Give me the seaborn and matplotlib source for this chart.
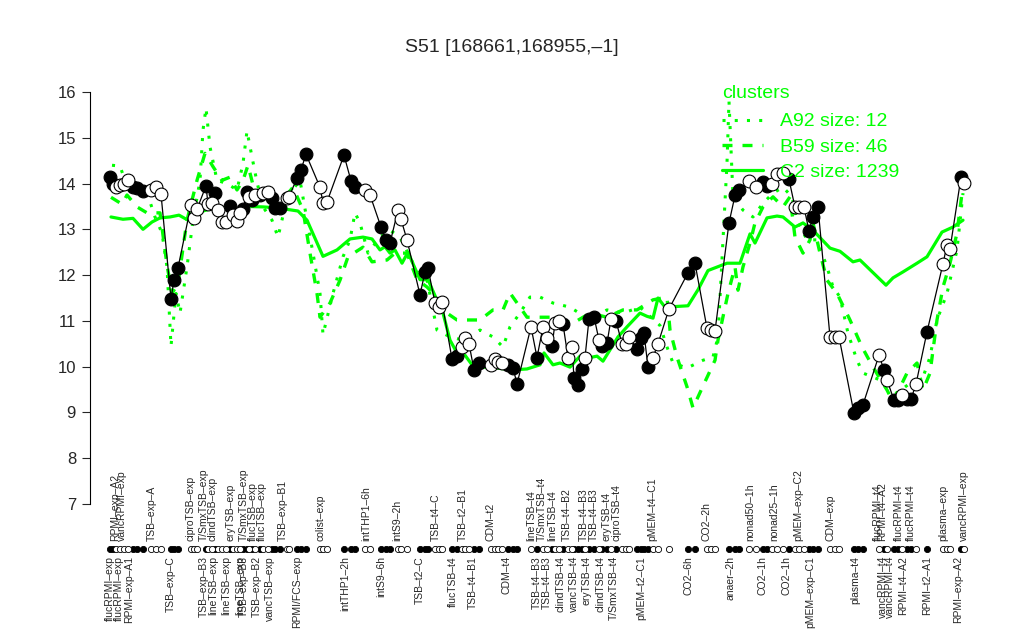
import matplotlib
matplotlib.use("Agg")
import matplotlib.pyplot as plt
import matplotlib.transforms as mtransforms
from matplotlib.lines import Line2D
import seaborn as sns

sns.set_style("white")
plt.rcParams['font.family'] = ['Liberation Sans', 'DejaVu Sans']

# sample position along the x axis, expression value, filled marker (1) or open (0)
pos = [110, 113, 116, 120, 124, 128, 133, 137, 143, 151, 156, 161, 171, 174, 178,
       191, 194, 197, 206, 208, 212, 215, 218, 222, 226, 230, 233, 237, 240, 243,
       247, 249, 252, 255, 260, 263, 268, 272, 275, 280, 287, 289, 297, 301, 306,
       320, 323, 327, 344, 351, 355, 365, 370, 381, 386, 390, 398, 401, 407, 420,
       425, 428, 435, 439, 442, 452, 457, 462, 465, 469, 474, 479, 491, 495, 498,
       502, 508, 513, 517, 531, 537, 543, 547, 552, 555, 559, 563, 568, 572, 574,
       578, 582, 585, 589, 594, 599, 602, 607, 611, 616, 622, 626, 629, 637, 641,
       644, 648, 653, 658, 669, 688, 695, 707, 711, 715, 729, 735, 739, 749, 756,
       763, 767, 772, 777, 783, 789, 795, 799, 804, 809, 813, 818, 830, 835, 839,
       854, 858, 863, 879, 884, 887, 894, 898, 902, 907, 911, 916, 927, 943, 947,
       950, 961, 964]
expr = [14.15, 14.0, 13.93, 13.97, 14.0, 14.08, 13.93, 13.9, 13.84, 13.85, 13.92, 13.77, 11.48, 11.9, 12.16,
        13.53, 13.25, 13.44, 13.95, 13.55, 13.58, 13.79, 13.42, 13.16, 13.15, 13.51, 13.31, 13.18, 13.35, 13.44,
        13.82, 13.7, 13.65, 13.75, 13.75, 13.8, 13.82, 13.68, 13.47, 13.47, 13.68, 13.71, 14.12, 14.3, 14.64,
        13.92, 13.58, 13.6, 14.62, 14.06, 13.93, 13.87, 13.75, 13.05, 12.77, 12.7, 13.42, 13.22, 12.77, 11.57,
        12.07, 12.15, 11.39, 11.3, 11.41, 10.17, 10.23, 10.43, 10.62, 10.5, 9.93, 10.08, 10.04, 10.17, 10.1,
        10.08, 10.04, 9.98, 9.62, 10.87, 10.2, 10.87, 10.63, 10.45, 10.95, 11.0, 10.93, 10.2, 10.43, 9.75,
        9.6, 9.95, 10.2, 11.04, 11.09, 10.58, 10.45, 10.51, 11.04, 11.0, 10.5, 10.5, 10.65, 10.38, 10.62,
        10.73, 9.99, 10.2, 10.5, 11.26, 12.05, 12.26, 10.84, 10.8, 10.78, 13.14, 13.74, 13.86, 14.06, 13.92,
        14.04, 13.95, 14.0, 14.2, 14.24, 14.09, 13.48, 13.48, 13.48, 12.97, 13.27, 13.49, 10.65, 10.65, 10.65,
        8.98, 9.1, 9.17, 10.25, 9.93, 9.71, 9.27, 9.27, 9.38, 9.3, 9.29, 9.62, 10.76, 12.25, 12.66,
        12.57, 14.14, 14.02]
filled = [1, 1, 0, 0, 0, 0, 1, 1, 1, 0, 0, 0, 1, 1, 1,
          0, 0, 0, 1, 0, 0, 1, 0, 0, 0, 1, 0, 0, 0, 1,
          1, 0, 1, 0, 1, 0, 0, 1, 1, 1, 0, 0, 1, 1, 1,
          0, 0, 0, 1, 1, 1, 0, 0, 1, 1, 1, 0, 0, 0, 1,
          1, 1, 0, 0, 0, 1, 1, 0, 0, 0, 1, 1, 0, 0, 0,
          0, 1, 1, 1, 0, 1, 0, 0, 1, 0, 0, 1, 0, 0, 1,
          1, 1, 0, 1, 1, 0, 1, 1, 0, 1, 0, 0, 0, 1, 1,
          1, 1, 0, 0, 0, 1, 1, 0, 0, 0, 1, 1, 1, 0, 0,
          1, 1, 0, 0, 0, 1, 0, 0, 0, 1, 1, 1, 0, 0, 0,
          1, 1, 1, 0, 1, 0, 1, 1, 0, 1, 1, 0, 1, 0, 0,
          0, 1, 0]

# cluster mean profiles
c2_pos = [111, 123, 133, 143, 152, 160, 170, 179, 188, 200, 217, 237, 247, 263, 277, 298, 307, 323,
          337, 350, 363, 372, 380, 385, 390, 395, 402, 408, 420, 428, 437, 443, 450, 457, 465, 473,
          483, 497, 513, 527, 540, 544, 553, 560, 570, 580, 588, 597, 603, 618, 627, 640, 647, 653,
          658, 665, 688, 698, 708, 727, 740, 750, 755, 767, 777, 783, 795, 803, 813, 830, 840, 853,
          860, 886, 893, 903, 917, 927, 942, 953, 963]
c2_val = [13.27, 13.22, 13.24, 13.0, 13.16, 13.25, 13.27, 13.31, 13.2, 13.38, 13.49, 13.42, 13.5, 13.49,
          13.47, 13.4, 13.2, 12.41, 12.55, 12.79, 12.83, 12.79, 12.55, 12.62, 12.48, 12.55, 12.26, 12.5,
          11.9, 11.9, 11.45, 11.17, 10.58, 10.3, 10.25, 10.01, 9.99, 9.97, 9.93, 9.95, 10.04, 10.3, 10.04,
          10.08, 9.99, 10.23, 10.19, 10.23, 10.12, 10.65, 10.87, 11.17, 11.1, 11.06, 11.5, 11.3, 11.33,
          11.68, 12.1, 12.26, 12.26, 12.9, 12.7, 13.25, 13.29, 13.27, 13.05, 13.14, 12.98, 12.59, 12.52,
          12.29, 12.33, 11.78, 11.94, 12.07, 12.26, 12.4, 12.94, 13.05, 13.2]

b59_pos = [111, 122, 127, 137, 147, 160, 167, 172, 178, 187, 197, 205, 213, 222, 230, 237, 243, 248,
           253, 262, 277, 293, 303, 310, 317, 320, 330, 340, 348, 363, 372, 387, 395, 407, 417, 427,
           437, 447, 457, 467, 480, 493, 503, 510, 520, 527, 540, 553, 573, 590, 607, 623, 637, 653,
           667, 670, 677, 687, 693, 702, 715, 718, 728, 735, 738, 743, 750, 755, 763, 773, 783, 790,
           795, 803, 810, 813, 820, 827, 837, 850, 862, 873, 887, 893, 907, 917, 923, 930, 937, 943,
           950, 957, 962]
b59_val = [13.7, 13.55, 13.75, 13.49, 13.36, 13.36, 12.22, 11.6, 11.82, 13.2, 14.07, 14.66, 14.37, 14.07,
           14.14, 13.86, 14.07, 14.4, 13.97, 13.71, 13.49, 13.92, 13.42, 12.48, 11.6, 11.08, 11.39, 11.89,
           12.4, 12.61, 12.29, 12.33, 12.48, 12.48, 11.9, 11.74, 11.52, 11.17, 11.02, 11.02, 11.02, 11.24,
           11.24, 11.61, 11.3, 11.08, 11.08, 11.08, 10.95, 11.17, 11.08, 11.24, 11.24, 11.46, 11.52, 10.8,
           10.21, 9.56, 9.1, 9.53, 10.14, 10.58, 11.6, 12.18, 11.67, 12.18, 12.7, 13.14, 13.49, 13.71,
           13.49, 13.71, 12.83, 12.48, 12.77, 13.14, 12.48, 11.89, 11.6, 11.02, 10.43, 9.99, 9.49, 9.23,
           9.86, 10.08, 9.49, 9.86, 11.02, 11.74, 12.26, 12.92, 13.79]

a92_pos = [112, 120, 125, 137, 147, 155, 162, 167, 171, 176, 180, 187, 193, 200, 203, 206, 210, 217,
           227, 237, 243, 247, 252, 257, 263, 272, 278, 283, 290, 300, 307, 313, 320, 323, 333, 343,
           350, 355, 360, 368, 380, 390, 400, 413, 427, 435, 437, 450, 463, 480, 493, 503, 510, 520,
           530, 540, 553, 570, 590, 607, 623, 640, 660, 667, 673, 687, 703, 713, 718, 723, 727, 729,
           733, 743, 753, 763, 773, 783, 792, 797, 807, 817, 827, 833, 840, 848, 857, 863, 880, 897,
           910, 923, 930, 937, 947, 957, 963]
a92_val = [14.4, 14.38, 14.07, 14.0, 13.8, 13.27, 12.92, 12.18, 10.45, 11.6, 11.17, 12.18, 13.2, 14.07,
           15.17, 15.65, 14.8, 14.07, 14.0, 13.86, 14.44, 15.15, 14.58, 14.03, 13.49, 13.2, 12.83, 13.3,
           13.79, 14.07, 13.2, 12.48, 11.6, 10.7, 11.6, 12.4, 12.77, 13.36, 13.14, 12.48, 12.83, 12.98,
           12.83, 12.26, 11.9, 11.02, 10.8, 10.65, 10.58, 10.8, 10.65, 10.43, 10.87, 11.17, 11.52, 11.52,
           11.39, 11.3, 11.02, 11.24, 11.17, 11.3, 10.9, 10.43, 10.08, 9.97, 10.14, 10.21, 10.65, 12.77,
           14.45, 15.8, 13.71, 13.42, 13.27, 13.57, 13.79, 13.92, 13.71, 13.2, 12.77, 12.77, 12.18, 11.74,
           11.52, 10.73, 10.14, 9.86, 9.71, 9.42, 9.64, 9.77, 10.21, 11.02, 11.6, 12.55, 13.79]

# sample names written above and below the marker strip
top_pos = [115, 122, 152, 191, 204, 212, 231, 244, 253, 262, 283, 321, 366, 397, 436, 463, 491,
           531, 542, 552, 567, 584, 594, 606, 616, 652, 707, 750, 774, 798, 831, 878, 882, 899,
           911, 943, 964]
top_txt = ["RPMI–exp–A2", "vancRPMI–exp", "TSB–exp–A", "ciproTSB–exp", "T/SmxTSB–exp",
           "clindTSB–exp", "eryTSB–exp", "T/SmxTSB–exp", "flucTSB–exp", "flucTSB–exp",
           "TSB–exp–B1", "colist–exp", "intTHP1–6h", "intS9–2h", "TSB–t4–C", "TSB–t2–B1",
           "CDM–t2", "lineTSB–t4", "T/SmxTSB–t4", "lineTSB–t4", "TSB–t4–B2", "TSB–t4–B3",
           "TSB–t4–B3", "eryTSB–t4", "ciproTSB–t4", "pMEM–t4–C1", "CO2–2h", "nonad50–1h",
           "nonad25–1h", "pMEM–exp–C2", "CDM–exp", "flucRPMI–t4", "RPMI–t4–A2", "flucRPMI–t4",
           "flucRPMI–t4", "plasma–exp", "vancRPMI–exp"]
bot_pos = [110, 119, 129, 171, 204, 213, 226, 240, 244, 257, 270, 297, 345, 381, 420, 453, 473,
           507, 537, 547, 560, 574, 587, 600, 614, 641, 688, 730, 763, 786, 810, 855, 883, 890,
           903, 927, 958]
bot_txt = ["flucRPMI–exp", "flucRPMI–exp", "RPMI–exp–A1", "TSB–exp–C", "TSB–exp–B3",
           "lineTSB–exp", "lineTSB–exp", "lineTSB–exp", "TSB–exp–B3", "TSB–exp–B2",
           "vancTSB–exp", "RPMI/FCS–exp", "intTHP1–2h", "intS9–6h", "TSB–t2–C", "flucTSB–t4",
           "TSB–t4–B1", "CDM–t4", "TSB–t4–B3", "TSB–t4–B3", "clindTSB–t4", "vancTSB–t4",
           "eryTSB–t4", "clindTSB–t4", "T/SmxTSB–t4", "pMEM–t2–C1", "CO2–6h", "anaer–2h",
           "CO2–1h", "CO2–1h", "pMEM–exp–C1", "plasma–t4", "vancRPMI–t4", "vancRPMI–t4",
           "RPMI–t4–A2", "RPMI–t2–A1", "RPMI–exp–A2"]

green = "#00ff00"
fig = plt.figure(figsize=(10.24, 6.4), dpi=100)
ax = fig.add_axes([90 / 1024, 136 / 640, 910 / 1024, 412 / 640])

sns.lineplot(x=a92_pos, y=a92_val, ax=ax, color=green, lw=2.2, linestyle=(0, (1, 3)), sort=False)
sns.lineplot(x=b59_pos, y=b59_val, ax=ax, color=green, lw=2.4, linestyle=(0, (3, 3)), sort=False)
sns.lineplot(x=c2_pos, y=c2_val, ax=ax, color=green, lw=2.3, sort=False)

sns.lineplot(x=pos, y=expr, ax=ax, color="black", lw=0.9, sort=False)
fx = [p for p, f in zip(pos, filled) if f]
fy = [v for v, f in zip(expr, filled) if f]
ox = [p for p, f in zip(pos, filled) if not f]
oy = [v for v, f in zip(expr, filled) if not f]
sns.scatterplot(x=fx, y=fy, ax=ax, s=85, color="black", edgecolor="black", linewidth=0.8, zorder=5, clip_on=False)
sns.scatterplot(x=ox, y=oy, ax=ax, s=85, color="white", edgecolor="black", linewidth=0.8, zorder=5, clip_on=False)

# marker strip below the axis
trans = mtransforms.blended_transform_factory(ax.transData, ax.transAxes)
strip_y = -45 / 412
ax.scatter(fx, [strip_y] * len(fx), s=20, color="black", edgecolor="black", linewidth=0.6,
           transform=trans, clip_on=False)
ax.scatter(ox, [strip_y] * len(ox), s=20, color="white", edgecolor="black", linewidth=0.6,
           transform=trans, clip_on=False)
for p, t in zip(top_pos, top_txt):
    ax.text(p, -37 / 412, t, transform=trans, rotation=90, ha="center", va="bottom", fontsize=7.5)
for p, t in zip(bot_pos, bot_txt):
    ax.text(p, -52 / 412, t, transform=trans, rotation=90, ha="center", va="top", fontsize=7.5)

ax.set_xlim(90, 1000)
ax.set_ylim(7, 16)
ax.set_yticks(range(7, 17))
ax.tick_params(axis="y", length=6, width=0.8, labelsize=12, left=True, direction="out", pad=4)
ax.set_xticks([])
for s in ["top", "right", "bottom"]:
    ax.spines[s].set_visible(False)
ax.spines["left"].set_bounds(7, 16)
ax.spines["left"].set_linewidth(0.8)
ax.spines["left"].set_color("black")
ax.set_xlabel("")
ax.set_ylabel("")

fig.text(512 / 1024, 1 - 47 / 640, "S51 [168661,168955,–1]", ha="center", va="center", fontsize=14)

handles = [Line2D([], [], color=green, lw=2.2, linestyle=(0, (1, 3))),
           Line2D([], [], color=green, lw=2.4, linestyle=(0, (3, 3))),
           Line2D([], [], color=green, lw=2.3)]
leg = ax.legend(handles, ["A92 size: 12", "B59 size: 46", "C2 size: 1239"], title="clusters",
                loc="upper left", bbox_to_anchor=(710 / 1024, 1 - 73 / 640), bbox_transform=fig.transFigure,
                frameon=False, fontsize=14, title_fontsize=14, handlelength=2.1, handletextpad=0.9,
                labelspacing=0.4, borderpad=0.1, labelcolor=green)
leg.get_title().set_color(green)
leg._legend_box.align = "left"
leg._legend_box.sep = 8

fig.savefig("out.png", dpi=100)
